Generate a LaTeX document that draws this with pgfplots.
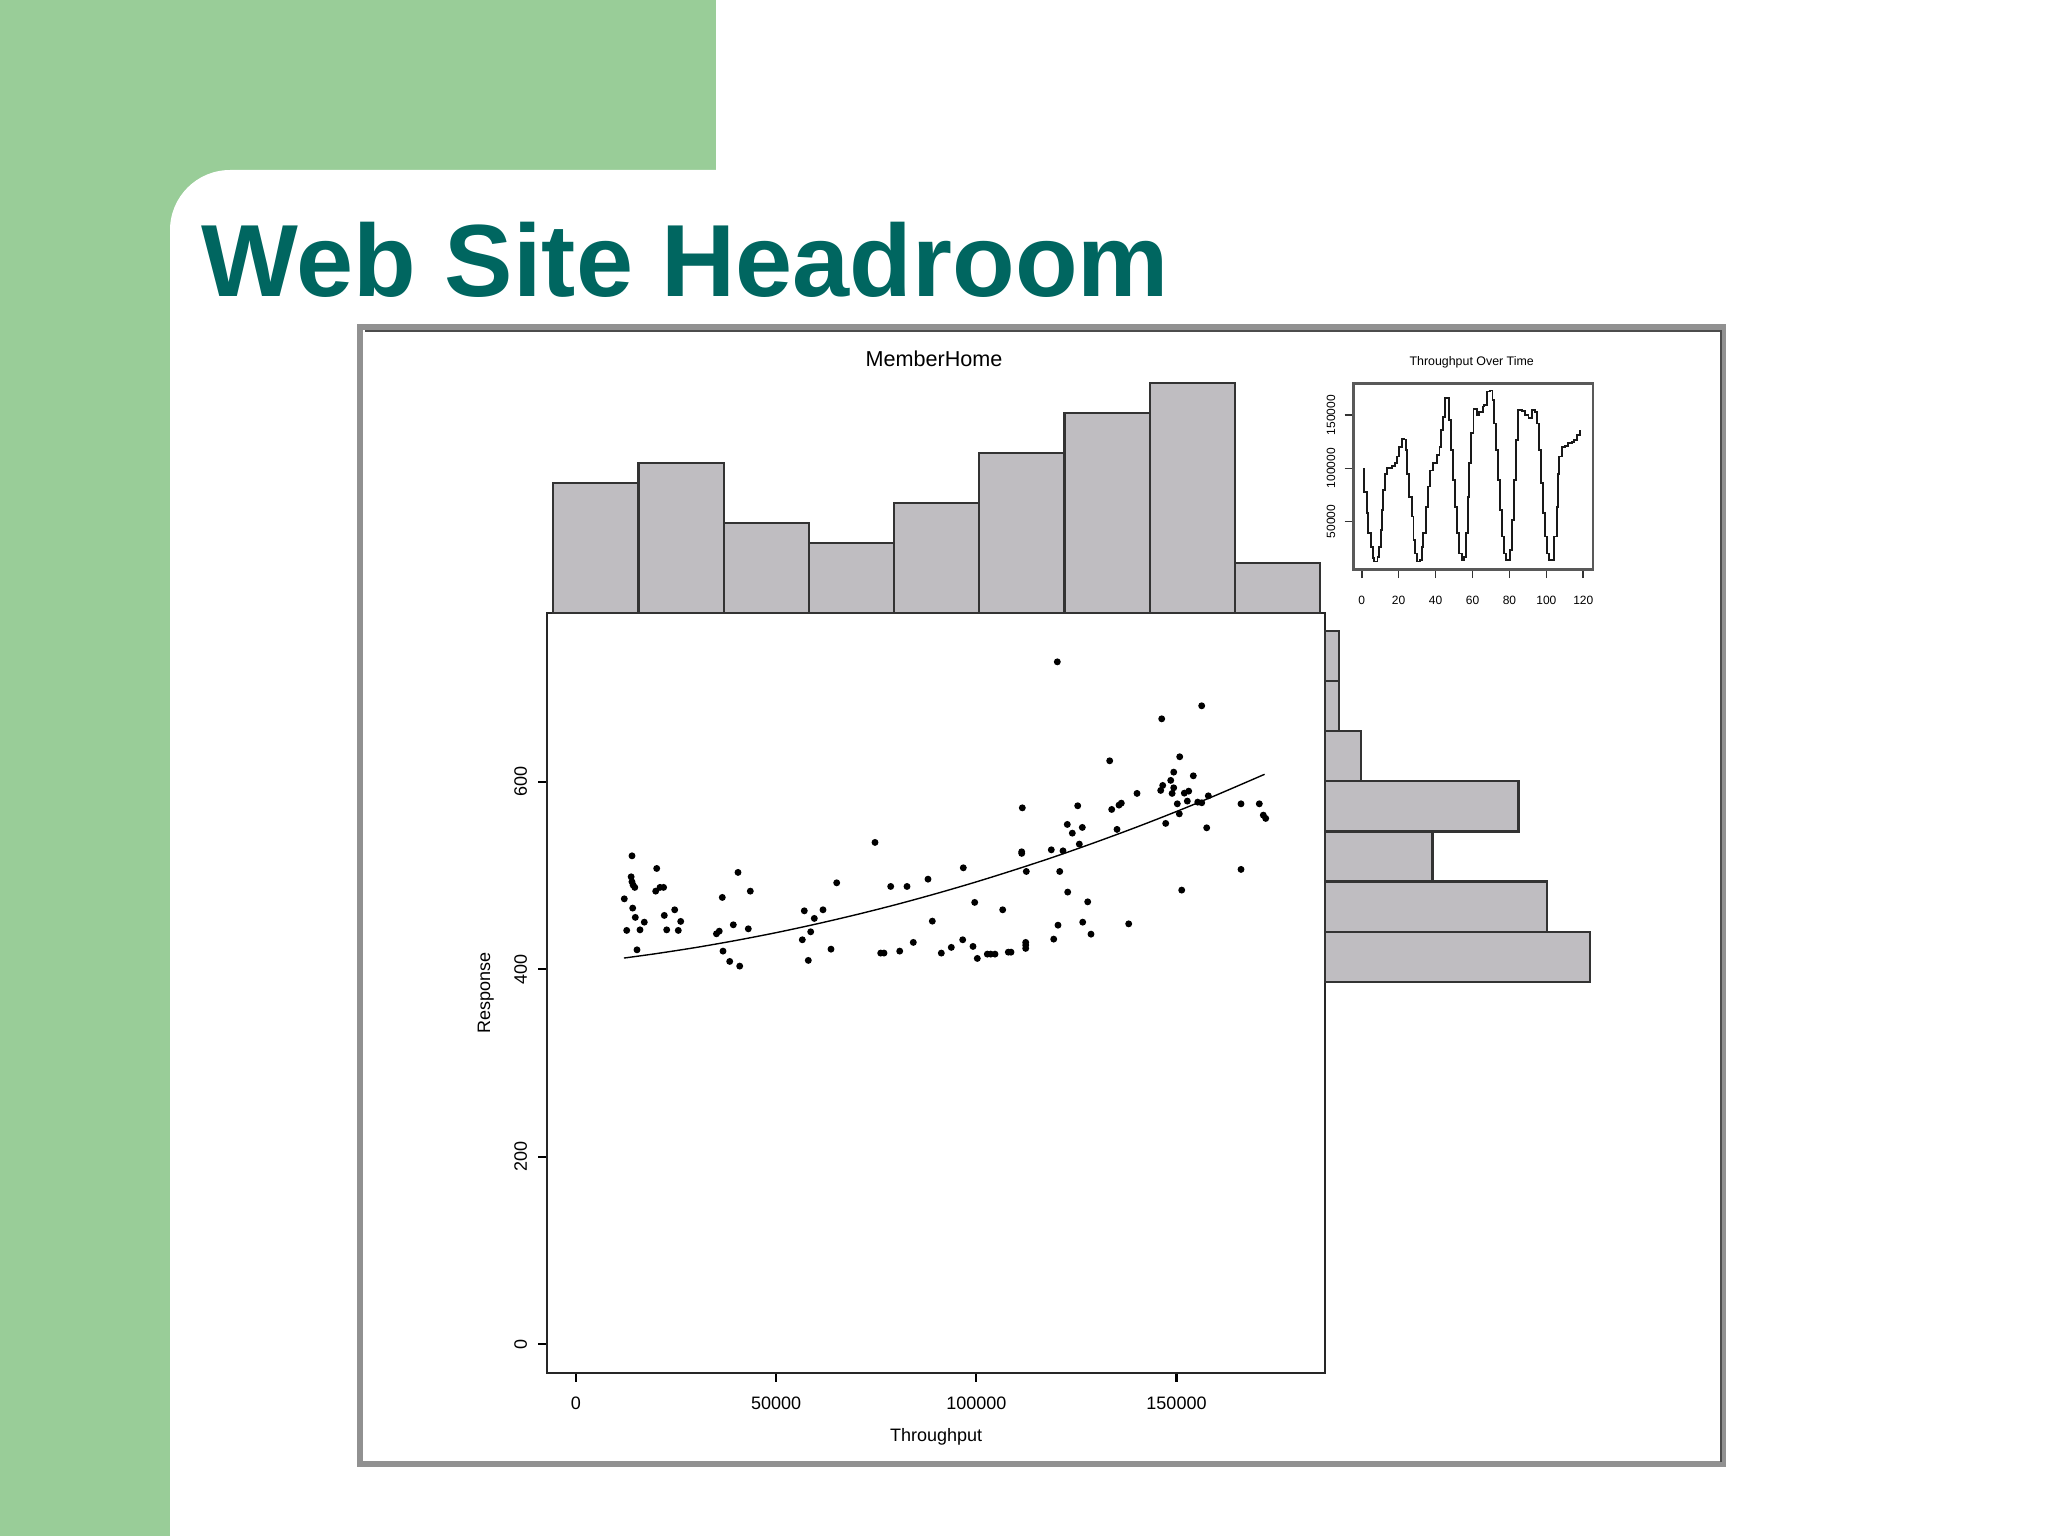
\documentclass[border=0pt]{standalone}
\usepackage{pgfplots}
\pgfplotsset{compat=1.18}
\usepackage{fontspec}
\setmainfont{Liberation Sans}
\definecolor{slidegreen}{RGB}{153,205,152}
\definecolor{titleteal}{RGB}{0,102,96}
\definecolor{histgray}{RGB}{191,189,193}
\definecolor{framegray}{RGB}{145,145,145}
\begin{document}
\begin{tikzpicture}[x=0.25pt,y=0.25pt]
\useasboundingbox (0,0) rectangle (2048,1536);
\fill[white] (0,0) rectangle (2048,1536);
\fill[slidegreen] (0,0) rectangle (716,1536);
\fill[white, rounded corners=15pt] (170,-200) rectangle (2300,1366);
\node[anchor=base west, inner sep=0pt, font=\fontsize{25.65pt}{30pt}\selectfont\bfseries, text=titleteal] at (201,1239.3) {Web Site Headroom};
% screenshot frame
\draw[framegray, line width=1.5pt] (360.3,72) rectangle (1723,1209);
\draw[black!70, line width=0.5pt] (365,1205.5) -- (1720.5,1205.5) -- (1720.5,74);
\node[font=\fontsize{5.4pt}{6pt}\selectfont, inner sep=0pt] at (934,1177) {MemberHome};
\node[font=\fontsize{3.1pt}{3.5pt}\selectfont, inner sep=0pt] at (1471.7,1173.3) {Throughput Over Time};
\coordinate (S) at (547.2,163.3);
\coordinate (T) at (553.3,922.7);
\coordinate (R) at (1325,554.3);
\coordinate (I) at (1353.3,966.7);
% scatter
\begin{axis}[at={(S)}, anchor=south west, scale only axis, width=194.45pt, height=189.9pt,
  xmin=-7168, xmax=187088, ymin=-30.6, ymax=780,
  axis line style={black!85, line width=0.55pt},
  xtick={0,50000,100000,150000}, ytick={0,200,400,600},
  tick align=outside, tick pos=left, major tick length=2.3pt,
  tick style={black, line width=0.55pt},
  scaled ticks=false,
  /pgf/number format/.cd, fixed, set thousands separator={}, assume math mode=true, /pgfplots/.cd,
  tick label style={font=\fontsize{4.5pt}{5pt}\selectfont, inner sep=0pt},
  xticklabel style={anchor=north, yshift=-3.5pt},
  yticklabel style={xshift=-2.55pt, rotate=90, anchor=south},
  xlabel={Throughput}, ylabel={Response},
  label style={font=\fontsize{4.5pt}{5pt}\selectfont},
  xlabel style={at={(axis description cs:0.5,-0.0842)}, anchor=center},
  ylabel style={at={(axis description cs:-0.0791,0.5)}, anchor=center},
  clip=false]
\addplot[only marks, mark=*, mark size=0.65pt, black] coordinates {
(14011,521)(20180,507.5)(40485,503.3)(13800,498.6)(14000,493.3)(14300,489.7)(14700,487.3)
(12088,475.1)(19930,483.3)(21000,487.3)(21900,487.3)(14186,465.2)(14835,455.3)(17083,450.2)
(12687,441.4)(16009,442)(15260,420.7)(22078,457.4)(24675,463.4)(26174,451)(22677,442)
(25574,441.4)(36564,476.6)(43557,483.3)(39311,447.4)(43057,443.1)(35100,437.8)(35800,440.6)
(36738,419.3)(38412,408.3)(40909,403.3)(57043,462.3)(61713,463.4)(59541,454.2)(58641,439.9)
(56543,431.4)(58042,409.4)(63711,421.4)(65135,492.2)(74700,535.3)(78621,488.3)(82692,488.3)
(87937,496.1)(89011,451.3)(84266,428.6)(80869,419.3)(76124,417.2)(76948,417.2)
(120230,728)(156293,681.1)(146304,667.2)(133316,622.4)(150799,626.7)(149301,610.3)
(154196,606.4)(148551,601.5)(146553,596.1)(146054,590.8)(149301,593.6)(148900,587.6)
(151948,587.9)(153047,590)(140135,587.6)(136214,577.2)(135639,575.1)(133816,570.5)
(125325,574.4)(111488,572.2)(150200,576.5)(152697,579.4)(155295,578.3)(156293,577.6)
(157942,585)(166109,576.5)(170679,576.5)(171678,564.4)(172277,560.9)(150699,565.8)
(147302,555.6)(157542,550.9)(135140,549.2)(122727,554.5)(123976,545.2)(126474,551.3)
(125724,533.5)(118731,527.4)(121653,526.3)(111339,525.3)(111339,523.6)(112487,504.3)
(120829,504.3)(122827,482.3)(127822,471.9)(166109,506.5)(151298,484.4)(126574,450.2)
(120404,447)(128646,437.4)(138062,448.4)(119331,432.1)(112337,428.6)(112337,425.7)
(112337,422.2)(107992,418.2)(108667,418.2)(102748,416.1)(103597,416.1)(104670,416.1)
(100250,411.5)(99176,424.3)(96603,431.4)(93756,423.3)(91259,417.2)(96753,508.2)
(99600,471.3)(106593,463.4)
};
\addplot[black, line width=0.35pt, smooth] coordinates {
(12000,411.9)(20000,416.6)(30000,423.2)(40000,430.7)(50000,439.0)(60000,448.2)(70000,458.2)
(80000,469.0)(90000,480.7)(100000,493.2)(110000,506.6)(120000,520.7)(130000,535.8)
(140000,551.6)(150000,568.3)(160000,585.9)(172000,608.0)
};
\end{axis}
% top histogram
\begin{axis}[at={(T)}, anchor=south west, scale only axis, width=191.675pt, height=57.5pt,
  xmin=0, xmax=180000, ymin=0, ymax=23, hide axis, clip=false]
\addplot[ybar interval, fill=histgray, draw=black!80, line width=0.55pt] coordinates {
(0,13)(20000,15)(40000,9)(60000,7)(80000,11)(100000,16)(120000,20)(140000,23)(160000,5)(180000,5)};
\end{axis}
% right histogram
\begin{axis}[at={(R)}, anchor=south west, scale only axis, width=66.3pt, height=87.675pt,
  xmin=0, xmax=37, ymin=400, ymax=750, hide axis, clip=false]
\addplot[xbar interval, fill=histgray, draw=black!80, line width=0.55pt] coordinates {
(37,400)(31,450)(15,500)(27,550)(5,600)(2,650)(2,700)(2,750)};
\end{axis}
% inset
\begin{axis}[at={(I)}, anchor=south west, scale only axis, width=59.85pt, height=46.5pt,
  xmin=-4.55, xmax=125.1, ymin=5253, ymax=179737,
  axis line style={black!65, line width=0.6pt},
  xtick={0,20,40,60,80,100,120}, ytick={50000,100000,150000},
  tick align=outside, tick pos=left, major tick length=2.2pt,
  tick style={black!80, line width=0.4pt},
  scaled ticks=false,
  /pgf/number format/.cd, fixed, set thousands separator={}, assume math mode=true, /pgfplots/.cd,
  tick label style={font=\fontsize{3pt}{3.5pt}\selectfont, inner sep=0pt},
  xticklabel style={anchor=north, yshift=-4.2pt},
  yticklabel style={xshift=-2.1pt, rotate=90, anchor=south},
  clip=false]
\addplot[black!90, line width=0.45pt, const plot] coordinates {
(0.9,99000)(1.4,78000)(2.7,58000)(3.6,39000)(4.9,26500)(6,15600)(6.7,12500)(8.5,17000)
(9.4,26500)(10.3,42000)(11.2,61000)(11.7,80000)(12.6,95000)(13.9,100000)(16.2,102000)
(18,104700)(19,111000)(20.2,120000)(21.7,128000)(23.1,127000)(24,117000)(24.7,95000)
(25.8,73000)(27.1,54700)(28,33000)(28.9,20000)(30.1,12500)(31.6,14000)(32.5,26500)
(33.4,39000)(34.7,64000)(36.1,83000)(37,98000)(38.4,104700)(40.6,112500)(42.1,120000)
(43.1,136000)(44.2,148000)(45.1,165600)(46.6,165600)(47.3,145000)(48.2,117000)(49.3,89000)
(50.5,64000)(51.4,39000)(52.9,20000)(54.2,14000)(55.4,17000)(56.3,39000)(57.4,73000)
(58.3,104700)(59.2,133000)(60.5,156000)(62.3,150000)(63.5,153000)(65.5,158000)(66.4,159500)
(67.7,172000)(69.5,173000)(70.8,164000)(71.7,142000)(72.7,117000)(74,89000)(74.9,61000)
(76,36000)(77.1,20000)(78.2,14000)(79.4,14000)(80.3,23500)(81.2,51500)(82.5,89000)
(83.6,126500)(84.8,154700)(86.6,154000)(88.4,150000)(90.3,147000)(92.1,154700)(93.9,153000)
(95.1,142000)(96.2,117000)(96.9,86000)(98,58000)(99.3,36000)(100.5,20000)(101.6,14000)
(103.2,14000)(104.3,36000)(105.6,64000)(106.5,95000)(107,111000)(108.3,120000)(110.1,121000)
(111.9,123500)(113.7,125000)(115,126500)(116.4,131000)(118.2,136000)
};
\end{axis}
\end{tikzpicture}
\end{document}
